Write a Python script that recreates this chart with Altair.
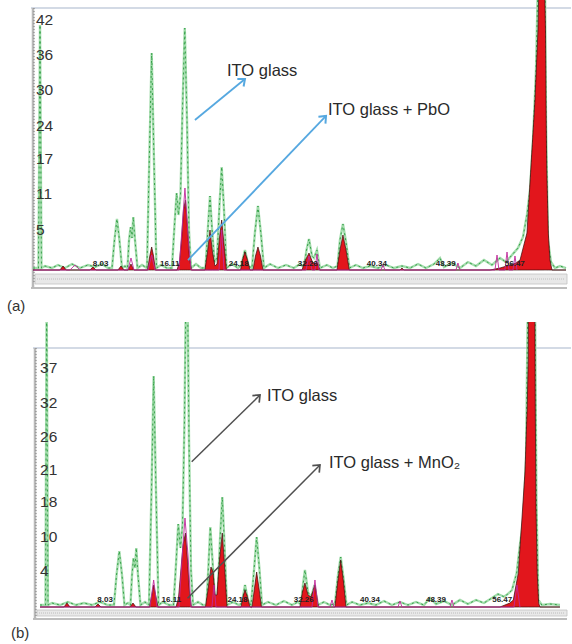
import altair as alt
import pandas as pd

# ---------------- Panel (a): ITO glass (green) vs ITO glass + PbO (red) ----------------
a_green_x = [0.12, 0.76, 0.94, 1.11, 1.52, 2.34, 3.04, 3.86, 4.68, 5.61, 6.55, 7.37, 8.19, 8.89,
             9.36, 9.65, 9.94, 10.23, 10.53, 10.88,
             11.17, 11.35, 11.54, 11.70, 11.85, 12.05, 12.34, 12.87,
             13.45, 13.72, 14.00, 14.27, 14.56, 15.09, 15.79,
             16.37, 16.67, 16.92, 17.13, 17.37, 17.60, 17.87, 18.13, 18.36, 18.60, 19.18, 19.77,
             20.29, 20.58, 20.82, 21.05, 21.35,
             21.64, 21.93, 22.19, 22.46, 22.75, 23.39, 24.09,
             24.50, 24.91, 25.32,
             25.73, 26.08, 26.43, 26.78, 27.13,
             27.84, 28.77, 29.71, 30.64, 31.35,
             31.81, 32.11, 32.40, 32.75, 32.98, 33.33, 33.68, 34.50, 35.20,
             35.73, 36.02, 36.37, 36.73, 37.13,
             37.89, 38.71, 39.53, 40.47, 41.40, 42.34, 43.27, 44.21, 45.15, 46.08, 47.02, 47.72,
             48.19, 49.12, 50.06, 50.99, 51.93, 52.87, 53.80, 54.74,
             55.44, 56.14, 56.84, 57.43, 57.89, 58.25, 58.60, 58.95, 59.18, 60.00, 60.12, 60.35,
             60.70, 61.17, 61.75, 62.46]
a_green_y = [0.35, 0.35, 42.98, 0.35, 0.70, 0.35, 0.88, 0.35, 1.05, 0.35, 0.88, 0.53, 1.05, 0.35,
             0.35, 5.26, 8.95, 5.26, 0.35, 0.70,
             0.35, 5.26, 7.54, 5.61, 9.30, 5.26, 0.35, 0.88,
             0.35, 19.30, 38.07, 19.30, 0.35, 0.88, 0.35,
             0.35, 7.89, 13.51, 9.65, 13.16, 28.07, 42.46, 26.32, 7.02, 0.35, 1.05, 0.35,
             0.35, 7.37, 12.98, 7.37, 1.40,
             2.11, 11.40, 18.07, 10.53, 0.35, 1.05, 0.35,
             0.88, 3.51, 0.70,
             0.35, 6.67, 11.23, 6.32, 0.35,
             1.05, 0.35, 0.88, 0.35, 1.05,
             0.53, 3.51, 5.44, 2.46, 2.11, 3.51, 0.35, 0.88, 0.35,
             0.70, 5.26, 8.07, 4.91, 0.35,
             0.88, 0.35, 0.70, 0.35, 0.88, 0.35, 0.70, 0.35, 1.05, 0.35, 1.05, 2.11,
             0.53, 1.23, 0.35, 1.40, 0.70, 1.75, 0.88, 2.11,
             1.40, 2.63, 3.86, 5.79, 9.65, 14.04, 22.81, 35.09, 50.88, 50.88, 26.32, 5.26,
             1.40, 0.35, 0.70, 0.35]

a_red_x = [0.12, 3.27, 3.63, 4.00, 6.78, 7.13, 7.49, 10.06, 10.41, 10.76, 11.23, 11.58, 11.93,
           13.51, 13.78, 14.00, 14.22, 14.44,
           16.96, 17.25, 17.49, 17.72, 17.95, 18.19, 18.42, 18.65,
           20.23, 20.53, 20.82, 21.11, 21.40,
           21.64, 21.93, 22.19, 22.46, 22.75,
           24.39, 24.62, 24.91, 25.20, 25.50,
           25.85, 26.14, 26.43, 26.73, 27.02,
           31.58, 31.99, 32.40, 32.81, 33.10, 33.33, 33.68,
           35.67, 36.02, 36.37, 36.73, 37.11,
           43.04, 43.27, 43.51, 51.23, 53.57,
           54.74, 55.91, 56.61, 57.08, 57.89, 58.36, 58.83, 59.18, 59.30, 59.94, 60.06, 60.12,
           60.20, 60.39, 60.58, 60.82, 62.46]
a_red_y = [0, 0, 0.70, 0, 0, 0.53, 0, 0, 0.70, 0, 0, 1.05, 0,
           0, 2.46, 4.04, 2.46, 0,
           0, 1.40, 5.26, 10.53, 12.28, 7.37, 2.11, 0,
           0, 3.16, 7.02, 3.16, 0.70,
           1.05, 5.61, 8.77, 4.56, 0,
           0, 1.75, 3.16, 1.75, 0,
           0, 2.46, 4.04, 2.46, 0,
           0, 1.75, 2.98, 1.40, 1.05, 1.40, 0,
           0, 3.51, 6.14, 3.51, 0,
           0, 0.35, 0, 0, 0,
           0.35, 0.88, 1.23, 1.75, 6.49, 18.07, 29.82, 42.11, 50.88, 50.88, 42.11, 29.82,
           18.07, 6.49, 1.75, 0, 0]

a_mag_x = [0.12, 4.44, 5.03, 5.61, 11.23, 11.58, 11.93, 13.57, 14.00, 14.39, 17.19, 17.54, 17.89,
           18.25, 18.60, 21.87, 22.19, 22.46, 32.05, 32.40, 32.75, 33.10, 33.33, 33.57, 40.82,
           41.05, 41.29, 49.59, 49.82, 50.06, 54.15, 54.39, 54.62, 55.32, 55.56, 55.79, 56.26,
           56.49, 56.73]
a_mag_y = [0, 0, 0.88, 0, 0, 2.11, 0, 0, 2.63, 0, 0, 7.02, 14.39,
           6.14, 0, 0, 7.02, 0, 0, 2.46, 0, 0, 2.81, 0, 0,
           0.88, 0, 0, 1.23, 0, 0, 2.63, 0, 0, 3.16, 0, 0,
           2.46, 0]

# ---------------- Panel (b): ITO glass (green) vs ITO glass + MnO2 (red) ----------------
b_green_x = [0.10, 0.77, 0.91, 1.07, 1.56, 2.54, 3.51, 4.49, 5.46, 6.44, 7.41, 8.39,
             9.12, 9.43, 9.77, 10.10, 10.40, 10.83,
             11.13, 11.32, 11.50, 11.68, 11.84, 12.05, 12.35, 12.90,
             13.39, 13.70, 13.96, 14.24, 14.55, 15.10, 15.83,
             16.38, 16.68, 16.96, 17.23, 17.48, 17.72, 17.90, 18.09, 18.27, 18.51, 18.76, 19.37, 19.98,
             20.40, 20.65, 20.87, 21.13, 21.44,
             21.74, 22.05, 22.33, 22.60, 22.90, 23.63, 24.37,
             24.73, 25.10, 25.46,
             25.83, 26.20, 26.52, 26.87, 27.17,
             27.90, 28.88, 29.85, 30.83, 31.56,
             31.93, 32.17, 32.41, 32.78, 33.15, 33.57, 34.00, 34.73, 35.46,
             36.07, 36.44, 36.77, 37.11, 37.48,
             38.15, 39.12, 40.10, 41.07, 42.05, 43.02, 44.00, 44.98, 45.95, 46.93, 47.66, 48.39,
             49.37, 50.34, 51.32, 52.29, 53.27, 54.24, 55.22, 55.95, 56.68,
             57.17, 57.66, 58.23, 58.63, 59.04, 59.37, 59.61, 60.46, 60.64, 60.88, 61.30, 62.29, 63.51]
b_green_y = [0.35, 0.35, 55.61, 0.35, 0.70, 0.35, 0.88, 0.35, 0.70, 0.35, 0.88, 0.35,
             0.35, 5.61, 9.82, 5.61, 0.35, 0.70,
             0.35, 5.61, 8.60, 6.84, 10.35, 5.61, 0.35, 0.88,
             0.35, 20.53, 40.53, 20.53, 0.35, 0.88, 0.35,
             0.35, 7.37, 14.56, 10.35, 14.39, 32.81, 55.61, 55.61, 29.30, 6.49, 0.35, 0.88, 0.35,
             0.35, 7.37, 14.04, 8.25, 1.23,
             1.23, 11.75, 19.30, 10.88, 0.35, 0.88, 0.35,
             0.70, 3.86, 1.23,
             0.35, 6.49, 12.28, 6.49, 0.35,
             0.88, 0.35, 1.05, 0.35, 0.88,
             0.35, 3.86, 6.49, 2.63, 1.58, 3.86, 0.35, 0.88, 0.35,
             0.53, 5.61, 8.77, 5.09, 0.35,
             0.88, 0.35, 0.70, 0.35, 1.05, 0.35, 0.88, 0.35, 0.88, 0.35, 1.58, 0.53,
             1.05, 0.35, 1.23, 0.53, 1.23, 0.70, 1.58, 2.28, 1.80,
             2.30, 2.98, 5.96, 10.88, 15.26, 25.79, 55.61, 55.61, 18.77, 1.23, 0.35, 0.53, 0.35]

b_red_x = [0.10, 3.02, 3.39, 3.76, 6.80, 7.17, 7.54, 11.07, 11.44, 11.80,
           13.45, 13.73, 13.96, 14.20, 14.49,
           16.68, 16.99, 17.23, 17.54, 17.84, 18.09, 18.33, 18.57,
           20.28, 20.58, 20.95, 21.20, 21.44,
           21.68, 21.99, 22.33, 22.60, 22.90,
           24.61, 24.85, 25.10, 25.40, 25.71,
           25.95, 26.26, 26.52, 26.80, 27.11,
           31.80, 32.11, 32.41, 32.78, 33.15, 33.63, 34.06,
           36.07, 36.44, 36.77, 37.11, 37.41,
           56.20, 56.80, 57.41, 57.82, 58.43, 58.84, 59.24, 59.52, 59.65, 59.67, 60.44, 60.50,
           60.59, 60.74, 60.91, 61.07, 63.51]
b_red_y = [0, 0, 0.70, 0, 0, 0.53, 0, 0, 0.70, 0,
           0, 2.11, 3.86, 2.11, 0,
           0, 1.58, 5.61, 10.88, 12.98, 8.25, 2.63, 0,
           0, 2.98, 7.02, 6.14, 2.11,
           2.11, 8.25, 12.98, 7.37, 0,
           0, 1.75, 2.98, 1.75, 0,
           0, 3.33, 6.14, 3.33, 0,
           0, 2.63, 4.21, 2.11, 1.75, 3.86, 0,
           0, 4.74, 8.25, 4.39, 0,
           0, 0.35, 0.70, 1.23, 5.96, 14.74, 23.51, 35.09, 43.86, 55.61, 55.61, 35.09,
           17.54, 5.96, 0.70, 0, 0]

b_mag_x = [0.10, 13.51, 13.96, 14.37, 17.05, 17.41, 17.78, 18.15, 18.51, 21.07, 21.32, 21.56,
           33.27, 33.63, 34.00, 35.46, 35.71, 35.95, 43.76, 44.00, 44.24, 50.10, 50.34, 50.59,
           57.90, 58.27, 58.63]
b_mag_y = [0, 0, 4.74, 0, 0, 8.25, 15.61, 9.12, 0, 0, 3.86, 0,
           0, 4.74, 0, 0, 1.23, 0, 0, 1.05, 0, 0, 1.23, 0,
           0, 3.86, 0]

# ---------------- Tick labels ----------------
x_tick_values = [8.03, 16.11, 24.18, 32.26, 40.34, 48.39, 56.47]
x_tick_labels = ["8.03", "16.11", "24.18", "32.26", "40.34", "48.39", "56.47"]

a_y_labels = ["42", "36", "30", "24", "17", "11", "5"]
a_y_label_pos = [43.86, 37.72, 31.58, 25.26, 19.47, 13.33, 7.02]
b_y_labels = ["37", "32", "26", "21", "18", "10", "4"]
b_y_label_pos = [41.93, 35.79, 29.82, 24.04, 18.42, 12.28, 6.32]

# ---------------- Annotations ----------------
a_texts = ["ITO glass", "ITO glass + PbO"]
a_text_x = [22.81, 34.62]
a_text_y = [34.91, 28.07]
a_arrow_x = [19.06, 18.25]
a_arrow_y = [26.32, 1.75]
a_arrow_x2 = [24.91, 34.39]
a_arrow_y2 = [33.51, 27.02]
a_arrow_angle = [50, 44]

b_texts = ["ITO glass", "ITO glass + MnO\u2082"]
b_text_x = [27.78, 35.34]
b_text_y = [37.02, 25.26]
b_arrow_x = [18.60, 18.09]
b_arrow_y = [25.49, 1.53]
b_arrow_x2 = [26.93, 34.24]
b_arrow_y2 = [37.19, 24.91]
b_arrow_angle = [46, 45]

FONT = "Liberation Sans"
W, H = 572, 322
CHEVRON = "M-0.75,0.9L0,0L0.75,0.9"
ONE = pd.DataFrame({"k": [0]})


def deco_rule(color, width, dash=None, **pos):
    kw = dict(color=color, strokeWidth=width)
    if dash:
        kw["strokeDash"] = dash
    return alt.Chart(ONE).mark_rule(**kw).encode(**{k: alt.value(v) for k, v in pos.items()})


def make_panel(gx, gy, rx, ry, mx, my, xdom, ydom, ylabels, ylabpos, ylab_x, xlab_y,
               texts, tx, ty, ax, ay, ax2, ay2, aang, acolor, aw, frame, letter, letter_x, letter_y):
    xs = alt.Scale(domain=xdom, nice=False, zero=False)
    ys = alt.Scale(domain=ydom, nice=False, zero=False)

    def XY(xf="x", yf="y"):
        return dict(x=alt.X(f"{xf}:Q", scale=xs, axis=None),
                    y=alt.Y(f"{yf}:Q", scale=ys, axis=None, stack=None))

    g = pd.DataFrame({"x": gx, "y": gy, "i": range(len(gx))})
    r = pd.DataFrame({"x": rx, "y": ry, "i": range(len(rx))})
    m = pd.DataFrame({"x": mx, "y": my, "i": range(len(mx))})

    top, left_x, bar_y0, bar_y1, bot_y = frame
    layers = [
        deco_rule("#c5cedd", 1.3, x=left_x - 2, x2=W - 1, y=top),
        alt.Chart(ONE).mark_rect(fill="#e8e8e8", stroke="#c2c2c2", strokeWidth=0.8).encode(
            x=alt.value(left_x + 2), x2=alt.value(W - 5), y=alt.value(bar_y0), y2=alt.value(bar_y1)),
        deco_rule("#b3b3b3", 0.8, [1, 1], x=left_x + 4, x2=W - 7, y=(bar_y0 + bar_y1) / 2),
        deco_rule("#bdbdbd", 2, x=left_x - 2, x2=W - 5, y=bot_y),
        deco_rule("#b9b9b9", 2.5, x=left_x, y=top, y2=bot_y),
        deco_rule("#7d7d7d", 1, [1, 2], x=left_x + 1, y=top, y2=bar_y1),
        alt.Chart(g).mark_line(color="#a3dcac", strokeWidth=2.4, clip=True).encode(**XY(), order="i:Q"),
        alt.Chart(g).mark_line(color="#36a049", strokeWidth=1.0, strokeDash=[2, 3], clip=True).encode(**XY(), order="i:Q"),
        alt.Chart(r).mark_area(color="#e2161c", stroke="#3a0c0c", strokeWidth=0.7, clip=True).encode(**XY()),
        alt.Chart(m).mark_line(color="#c0299a", strokeWidth=0.9, clip=True).encode(**XY(), order="i:Q"),
        alt.Chart(pd.DataFrame({"x": [ylab_x] * len(ylabels), "y": ylabpos, "t": ylabels}))
        .mark_text(align="left", baseline="middle", font=FONT, fontSize=15.5, color="#333333")
        .encode(**XY(), text="t:N"),
        alt.Chart(pd.DataFrame({"x": x_tick_values, "y": [xlab_y] * len(x_tick_values), "t": x_tick_labels}))
        .mark_text(align="center", baseline="middle", font=FONT, fontSize=8, fontWeight="bold", color="#222222")
        .encode(**XY(), text="t:N"),
        alt.Chart(pd.DataFrame({"x": ax, "y": ay, "x2": ax2, "y2": ay2}))
        .mark_rule(color=acolor, strokeWidth=aw)
        .encode(**XY(), x2=alt.X2("x2:Q"), y2=alt.Y2("y2:Q")),
        alt.Chart(pd.DataFrame({"x": ax2, "y": ay2, "a": aang}))
        .mark_point(shape=CHEVRON, filled=False, size=170, strokeWidth=aw + 0.2, color=acolor, opacity=1)
        .encode(**XY(), angle=alt.Angle("a:Q", scale=None)),
        alt.Chart(pd.DataFrame({"x": tx, "y": ty, "t": texts}))
        .mark_text(align="left", baseline="middle", font=FONT, fontSize=16.5, color="#2a2a2a")
        .encode(**XY(), text="t:N"),
        alt.Chart(ONE).mark_text(text=letter, align="left", baseline="middle", font=FONT,
                                 fontSize=15, color="#333333")
        .encode(x=alt.value(letter_x), y=alt.value(letter_y)),
    ]
    return alt.layer(*layers).properties(width=W, height=H)


panel_a = make_panel(a_green_x, a_green_y, a_red_x, a_red_y, a_mag_x, a_mag_y,
                     [-3.74, 63.16], [-9.12, 47.37], a_y_labels, a_y_label_pos, 0.47, 1.05,
                     a_texts, a_text_x, a_text_y, a_arrow_x, a_arrow_y, a_arrow_x2, a_arrow_y2,
                     a_arrow_angle, "#56a8e0", 1.8, (8, 33, 274, 284, 288), "(a)", 7, 306)

panel_b = make_panel(b_green_x, b_green_y, b_red_x, b_red_y, b_mag_x, b_mag_y,
                     [-4.78, 64.98], [-6.49, 50.0], b_y_labels, b_y_label_pos, 0.10, 1.23,
                     b_texts, b_text_x, b_text_y, b_arrow_x, b_arrow_y, b_arrow_x2, b_arrow_y2,
                     b_arrow_angle, "#505050", 1.5, (26, 35, 288, 294, 297), "(b)", 11, 311)

chart = (
    alt.vconcat(panel_a, panel_b, spacing=0)
    .properties(padding=0, background="white")
    .configure_view(stroke=None)
)

chart.save("out.html", embed_options={"renderer": "svg", "actions": False})
